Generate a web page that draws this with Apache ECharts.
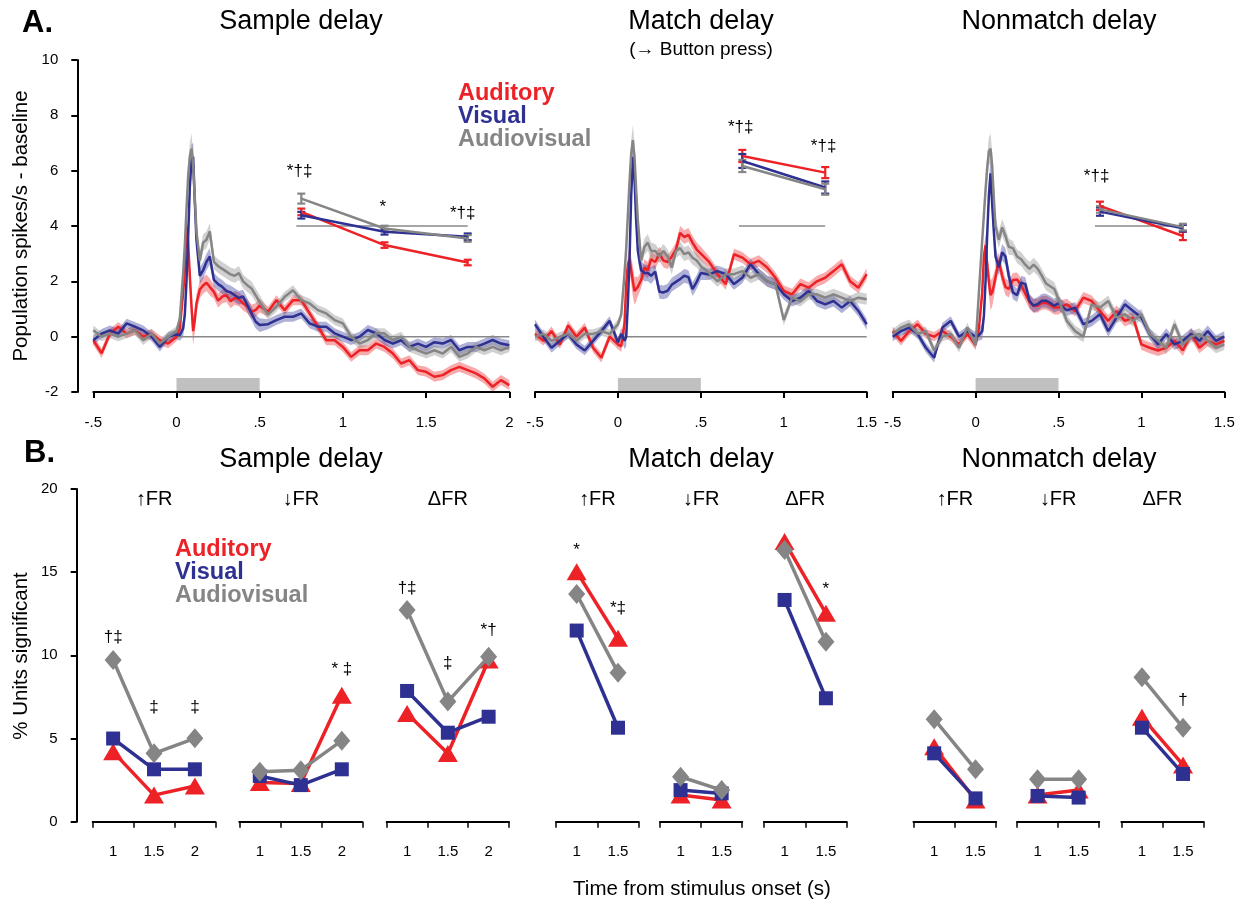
<!DOCTYPE html>
<html>
<head>
<meta charset="utf-8">
<title>Population activity and % units significant</title>
<script src="https://cdn.jsdelivr.net/npm/echarts@6.0.0/dist/echarts.min.js"></script>
<style>
  html, body { margin: 0; padding: 0; background: #fff; }
  #main { width: 1244px; height: 903px; }
</style>
</head>
<body>
<div id="main"></div>
<script>
// ---- A. population PSTH (spikes/s - baseline) ----
var a1Times = [-0.5,-0.45,-0.4,-0.35,-0.3,-0.25,-0.2,-0.15,-0.1,-0.05,
  0,0.02,0.04,0.05,0.06,0.07,0.08,0.09,0.1,0.11,0.12,0.14,0.16,0.18,0.2,0.225,0.25,0.275,0.3,0.325,0.35,0.375,0.4,0.425,0.45,0.475,0.5,
  0.55,0.6,0.65,0.7,0.75,0.8,0.85,0.9,0.95,1,1.05,1.1,1.15,1.2,1.25,1.3,1.35,1.4,1.45,1.5,1.55,1.6,1.65,1.7,1.75,1.8,1.85,1.9,1.95,2];
var a23Times = [-0.5,-0.45,-0.4,-0.35,-0.3,-0.25,-0.2,-0.15,-0.1,-0.05,
  0,0.02,0.04,0.05,0.06,0.07,0.08,0.09,0.1,0.11,0.12,0.14,0.16,0.18,0.2,0.225,0.25,0.275,0.3,0.325,0.35,0.375,0.4,0.425,0.45,0.475,0.5,
  0.55,0.6,0.65,0.7,0.75,0.8,0.85,0.9,0.95,1,1.05,1.1,1.15,1.2,1.25,1.3,1.35,1.4,1.45,1.5];

// sample delay
var a1Red = [-0.13,-0.6,0.11,0.36,0.11,0.23,0,0.11,-0.13,-0.25,
  0,0.3,1.6,2.4,4.0,3.4,2.2,1.1,0.2,0.6,1.2,1.7,1.85,1.95,1.8,1.62,1.3,1.45,1.5,1.28,1.4,1.35,1.2,1.1,0.9,0.96,1.12,
  0.9,1.32,0.96,1.32,1.32,0.84,0.36,-0.13,-0.13,-0.37,-0.73,-0.49,-0.49,-0.25,-0.37,-0.61,-0.97,-0.85,-1.21,-1.27,-1.45,-1.39,-1.21,-1.09,-1.21,-1.33,-1.51,-1.81,-1.57,-1.75];
var a1Blue = [-0.13,0.11,0.23,0.11,0.48,0.36,0.23,0,-0.37,0,
  0.08,0.05,0.3,0.8,2.0,3.6,5.4,6.4,6.5,4.9,3.5,2.2,2.4,2.7,2.9,2.05,1.9,1.8,1.65,1.6,1.5,1.4,1.45,1.15,0.85,0.55,0.42,
  0.45,0.6,0.72,0.72,0.84,0.48,0.36,0.36,0.12,0,-0.12,0,0.24,0.12,-0.12,-0.25,-0.13,-0.37,-0.25,-0.37,-0.2,-0.25,-0.12,-0.49,-0.37,-0.37,-0.25,-0.12,-0.25,-0.31];
var a1Gray = [0.23,0,0.11,0,0.11,0.23,-0.13,0.11,-0.25,0,
  0.2,0.65,2.3,3.3,4.6,5.8,6.5,6.8,6.2,5.0,3.8,2.75,3.4,3.5,3.8,2.7,2.55,2.45,2.35,2.25,2.2,2.3,2.0,1.86,1.75,1.5,1.25,
  0.8,1.08,1.44,1.68,1.32,1.2,0.96,0.84,0.6,0.48,0,-0.25,-0.12,0.12,0.12,-0.13,0,-0.37,-0.49,-0.61,-0.49,-0.61,-0.37,-0.73,-0.61,-0.37,-0.49,-0.37,-0.49,-0.37];
var a1Sem = [0.17,0.17,0.17,0.17,0.17,0.17,0.17,0.17,0.17,0.17,
  0.17,0.2,0.3,0.35,0.4,0.45,0.5,0.55,0.5,0.45,0.35,0.3,0.3,0.3,0.3,0.25,0.25,0.25,0.25,0.25,0.25,0.25,0.25,0.25,0.25,0.25,0.25,
  0.18,0.18,0.18,0.18,0.18,0.18,0.18,0.18,0.18,0.18,0.18,0.18,0.18,0.18,0.18,0.18,0.18,0.18,0.18,0.18,0.18,0.18,0.18,0.18,0.18,0.18,0.18,0.18,0.18,0.18];

// match delay
var a2Red = [0.1,-0.15,0.2,-0.28,0.4,0,0.33,-0.4,-0.76,0,
  -0.28,-0.35,0.5,1.9,2.6,2.8,2.4,2.0,1.65,1.72,1.8,2.05,2.5,2.4,2.8,2.7,3.0,2.75,2.7,2.9,3.15,3.75,3.6,3.68,3.4,3.15,3.0,
  2.7,2.26,1.9,2.98,2.86,2.62,2.74,2.5,2.13,1.65,1.53,1.9,1.77,2.0,2.13,2.37,2.62,2.0,1.77,2.26];
var a2Blue = [0.45,0,-0.4,-0.15,0.1,-0.28,-0.5,-0.15,0.2,0.57,
  -0.2,0.1,-0.15,0,1.2,2.8,5.1,6.5,5.7,4.2,3.1,2.4,2.3,2.3,2.2,2.35,1.62,1.6,1.66,1.88,1.98,2.08,2.2,2.15,1.72,1.98,2.3,
  2.25,2.37,2.26,1.9,2.13,2.62,2.26,2.0,1.9,1.53,1.29,1.41,1.65,1.29,1.17,1.29,1.05,1.29,0.93,0.45];
var a2Gray = [0,0.1,-0.15,0,0.1,-0.15,0.1,0.1,0.2,0.1,
  0.45,0.8,2.3,3.2,4.4,5.6,6.6,7.1,6.5,5.3,4.2,2.75,3.25,3.4,3.1,3.1,2.9,3.1,2.9,2.5,3.1,3.2,2.98,3.05,2.85,2.75,2.55,
  2.3,2.0,2.26,2.26,2.37,2.13,2.26,2.0,1.9,0.6,1.41,1.29,1.53,1.53,1.41,1.53,1.41,1.29,1.41,1.35];

// nonmatch delay
var a3Red = [0.2,-0.15,0.2,0.45,0.1,0,0.2,0,-0.28,0.1,
  -0.3,0.3,1.6,2.9,3.3,2.6,2.0,1.5,1.6,1.85,2.15,2.75,2.2,1.8,1.72,2.05,2.07,1.85,1.55,1.25,1.11,1.12,1.22,1.23,1.15,1.05,1.05,
  1.17,0.93,1.41,1.29,0.93,0.57,0.93,0.57,0.69,-0.28,-0.4,-0.5,-0.4,-0.15,-0.5,0.1,-0.4,-0.15,-0.28,-0.15];
var a3Blue = [0,0.2,0.33,0.1,-0.4,-0.76,0.33,0.57,0,0.2,
  0,0.05,0.2,0.75,2.0,3.7,5.1,5.9,4.8,3.8,2.9,2.5,3.05,2.9,2.2,1.6,1.5,1.95,1.9,1.3,1.12,1.18,1.3,1.3,1.22,1.12,1.2,
  0.95,1.05,0.45,0.57,0.81,0.2,0.69,1.17,0.93,0.69,0.1,-0.28,0.1,-0.28,-0.15,0.1,-0.15,0.2,-0.15,0];
var a3Gray = [0.1,0.33,0.45,0.1,0.2,-0.5,0,0.1,-0.4,0.33,
  -0.3,1.6,3.5,4.4,5.3,6.1,6.7,6.8,6.17,5.0,4.0,3.5,3.95,3.64,3.25,3.2,2.9,2.8,2.6,2.45,2.6,2.45,2.2,1.92,1.82,1.72,1.35,
  0.57,0.2,0,1.17,1.05,1.29,0.69,0.81,0.57,0.81,0.1,-0.15,-0.4,0.45,-0.28,0,0.1,-0.15,-0.4,-0.28];
var a23Sem = [0.17,0.17,0.17,0.17,0.17,0.17,0.17,0.17,0.17,0.17,
  0.17,0.2,0.3,0.35,0.4,0.45,0.5,0.55,0.5,0.45,0.35,0.3,0.3,0.3,0.3,0.25,0.25,0.25,0.25,0.25,0.25,0.25,0.25,0.25,0.25,0.25,0.25,
  0.2,0.2,0.2,0.2,0.2,0.2,0.2,0.2,0.2,0.2,0.2,0.2,0.2,0.2,0.2,0.2,0.2,0.2,0.2,0.2];

// delay-period means (inset), with s.e.m.
var a1InsetT = [0.75, 1.25, 1.75];
var a1InsetRed = [4.51, 3.31, 2.68], a1InsetRedErr = [0.12, 0.1, 0.1];
var a1InsetBlue = [4.39, 3.79, 3.61], a1InsetBlueErr = [0.12, 0.1, 0.12];
var a1InsetGray = [4.99, 3.91, 3.55], a1InsetGrayErr = [0.18, 0.1, 0.12];
var a2InsetT = [0.75, 1.25];
var a2InsetRed = [6.53, 5.93], a2InsetRedErr = [0.22, 0.2];
var a2InsetBlue = [6.35, 5.39], a2InsetBlueErr = [0.25, 0.22];
var a2InsetGray = [6.17, 5.33], a2InsetGrayErr = [0.22, 0.2];
var a3InsetT = [0.75, 1.25];
var a3InsetRed = [4.73, 3.64], a3InsetRedErr = [0.15, 0.15];
var a3InsetBlue = [4.52, 3.92], a3InsetBlueErr = [0.15, 0.12];
var a3InsetGray = [4.6, 3.96], a3InsetGrayErr = [0.12, 0.12];
var insetRefLevel = 4;
var a1Notes = [[0.74, 5.96, '*†‡'], [1.24, 4.69, '*'], [1.72, 4.45, '*†‡']];
var a2Notes = [[0.74, 7.58, '*†‡'], [1.24, 6.89, '*†‡']];
var a3Notes = [[0.73, 5.78, '*†‡']];
var stimOn = 0, stimOff = 0.5;

// ---- B. % units significant ----
var bCats3 = ['1', '1.5', '2'];
var bCats2 = ['1', '1.5'];
var sUpRed = [4.2, 1.6, 2.15], sUpBlue = [5.0, 3.15, 3.15], sUpGray = [9.72, 4.11, 5.01];
var sDnRed = [2.35, 2.3, 7.6], sDnBlue = [2.75, 2.2, 3.15], sDnGray = [3.0, 3.1, 4.87];
var sDfRed = [6.5, 4.1, 9.72], sDfBlue = [7.86, 5.35, 6.31], sDfGray = [12.73, 7.22, 9.92];
var mUpRed = [15.03, 11.03], mUpBlue = [11.49, 5.65], mUpGray = [13.69, 8.96];
var mDnRed = [1.6, 1.3], mDnBlue = [1.9, 1.7], mDnGray = [2.7, 1.9];
var mDfRed = [16.84, 12.53], mDfBlue = [13.33, 7.42], mDfGray = [16.34, 10.82];
var nUpRed = [4.5, 1.3], nUpBlue = [4.11, 1.4], nUpGray = [6.16, 3.15];
var nDnRed = [1.6, 1.9], nDnBlue = [1.55, 1.45], nDnGray = [2.55, 2.55];
var nDfRed = [6.28, 3.41], nDfBlue = [5.65, 2.87], nDfGray = [8.68, 5.65];
var sUpNotes = [[0, 11.1, '†‡'], [1, 6.9, '‡'], [2, 6.9, '‡']];
var sDnNotes = [[2, 9.15, '* ‡']];
var sDfNotes = [[0, 14.0, '†‡'], [1, 9.5, '‡'], [2, 11.5, '*†']];
var mUpNotes = [[0, 16.3, '*'], [1, 12.85, '*‡']];
var mDnNotes = [];
var mDfNotes = [[1, 13.95, '*']];
var nUpNotes = [], nDnNotes = [];
var nDfNotes = [[1, 7.3, '†']];

var RED = '#ec2227', BLUE = '#2e3192', GRAY = '#858585';
var FONT = '"Liberation Sans", Arial, Helvetica, sans-serif';

var chart = echarts.init(document.getElementById('main'));

var grids = [], xAxes = [], yAxes = [], series = [];

function tickFmt(v) {
    if (Math.abs(v) < 1e-9) return '0';
    var s = String(Math.round(v * 10) / 10);
    return s.replace(/^(-?)0\./, '$1.');
}

function axisCommon() {
    return {
        axisLine: { show: true, onZero: false, lineStyle: { color: '#000', width: 2 } },
        axisTick: { show: true, length: 6, lineStyle: { color: '#000', width: 2 } },
        splitLine: { show: false }
    };
}

function addAGrid(left, width, xmax, showY) {
    var gi = grids.length;
    grids.push({ left: left, top: 60, width: width, height: 332 });
    xAxes.push(echarts.util.merge({
        gridIndex: gi, type: 'value', min: -0.5, max: xmax, interval: 0.5,
        axisLabel: { color: '#000', fontSize: 15, margin: 23, formatter: tickFmt, fontFamily: FONT }
    }, axisCommon(), true));
    yAxes.push(echarts.util.merge({
        gridIndex: gi, type: 'value', min: -2, max: 10, interval: 2, show: showY, offset: 16,
        axisLabel: { color: '#000', fontSize: 15, margin: 19, fontFamily: FONT }
    }, axisCommon(), true));
    return gi;
}

function addBGrid(left, width, cats, showY) {
    var gi = grids.length;
    grids.push({ left: left, top: 489, width: width, height: 332.7 });
    var xa = echarts.util.merge({
        gridIndex: gi, type: 'category', data: cats, boundaryGap: true,
        axisLabel: { color: '#000', fontSize: 15, margin: 23, fontFamily: FONT }
    }, axisCommon(), true);
    xa.axisTick.lineStyle.width = 1.5;
    xAxes.push(xa);
    yAxes.push(echarts.util.merge({
        gridIndex: gi, type: 'value', min: 0, max: 20, interval: 5, show: showY, offset: 16,
        axisLabel: { color: '#000', fontSize: 15, margin: 19, fontFamily: FONT }
    }, axisCommon(), true));
    return gi;
}

//误差带
function bandSeries(gi, T, V, S, color) {
    return {
        type: 'custom', xAxisIndex: gi, yAxisIndex: gi, silent: true, z: 1,
        data: [[T[0], V[0]]],
        renderItem: function (params, api) {
            var up = [], lo = [];
            for (var i = 0; i < T.length; i++) {
                up.push(api.coord([T[i], V[i] + S[i]]));
                lo.unshift(api.coord([T[i], V[i] - S[i]]));
            }
            return { type: 'polygon', shape: { points: up.concat(lo) }, style: { fill: color, opacity: 0.38 } };
        }
    };
}

function traceSeries(gi, T, V, color, z) {
    return {
        type: 'line', xAxisIndex: gi, yAxisIndex: gi, silent: true, z: z,
        data: T.map(function (t, i) { return [t, V[i]]; }),
        symbol: 'none', lineStyle: { color: color, width: 2.5 }, itemStyle: { color: color }
    };
}

function refLine(gi, x0, x1, y) {
    return {
        type: 'line', xAxisIndex: gi, yAxisIndex: gi, silent: true, z: 1,
        data: [[x0, y], [x1, y]], symbol: 'none',
        lineStyle: { color: '#888', width: 1.5 }
    };
}

function stimBar(gi) {
    return {
        type: 'custom', xAxisIndex: gi, yAxisIndex: gi, silent: true, z: 1,
        data: [[stimOn, -2]],
        renderItem: function (params, api) {
            var p0 = api.coord([stimOn, -2]), p1 = api.coord([stimOff, -2]);
            return { type: 'rect', shape: { x: p0[0], y: p0[1] - 14, width: p1[0] - p0[0], height: 13 }, style: { fill: '#c0c0c0' } };
        }
    };
}

function insetSeries(gi, T, V, E, color, z) {
    var out = [];
    out.push({
        type: 'line', xAxisIndex: gi, yAxisIndex: gi, silent: true, z: z,
        data: T.map(function (t, i) { return [t, V[i]]; }), symbol: 'none',
        lineStyle: { color: color, width: 2.5 }
    });
    out.push({
        type: 'custom', xAxisIndex: gi, yAxisIndex: gi, silent: true, z: z,
        data: T.map(function (t, i) { return [t, V[i], E[i]]; }),
        renderItem: function (params, api) {
            var x = api.value(0), y = api.value(1), e = api.value(2);
            var a = api.coord([x, y + e]), b = api.coord([x, y - e]);
            var st = { stroke: color, lineWidth: 2.2 };
            return {
                type: 'group', children: [
                    { type: 'line', shape: { x1: a[0], y1: a[1], x2: b[0], y2: b[1] }, style: st },
                    { type: 'line', shape: { x1: a[0] - 4, y1: a[1], x2: a[0] + 4, y2: a[1] }, style: st },
                    { type: 'line', shape: { x1: b[0] - 4, y1: b[1], x2: b[0] + 4, y2: b[1] }, style: st }
                ]
            };
        }
    });
    return out;
}

function noteSeries(gi, notes) {
    return {
        type: 'custom', xAxisIndex: gi, yAxisIndex: gi, silent: true, z: 6,
        data: notes.map(function (n) { return [n[0], n[1]]; }),
        renderItem: function (params, api) {
            var p = api.coord([api.value(0), api.value(1)]);
            return {
                type: 'text', x: p[0], y: p[1],
                style: { text: notes[params.dataIndex][2], font: '17px ' + FONT, fill: '#000', align: 'center', verticalAlign: 'middle' }
            };
        }
    };
}

function aPanel(left, width, xmax, showY, T, R, Bl, G, S, iT, iR, iRe, iB, iBe, iG, iGe, refX0, refX1, notes) {
    var gi = addAGrid(left, width, xmax, showY);
    series.push(stimBar(gi));
    series.push(refLine(gi, 0, xmax, 0));
    series.push(bandSeries(gi, T, R, S, RED));
    series.push(bandSeries(gi, T, Bl, S, BLUE));
    series.push(bandSeries(gi, T, G, S, GRAY));
    series.push(traceSeries(gi, T, R, RED, 2));
    series.push(traceSeries(gi, T, Bl, BLUE, 3));
    series.push(traceSeries(gi, T, G, GRAY, 3));
    series.push(refLine(gi, refX0, refX1, insetRefLevel));
    series = series.concat(insetSeries(gi, iT, iR, iRe, RED, 4));
    series = series.concat(insetSeries(gi, iT, iB, iBe, BLUE, 4));
    series = series.concat(insetSeries(gi, iT, iG, iGe, GRAY, 4));
    series.push(noteSeries(gi, notes));
}

function bLine(gi, V, color, symbol, size, z) {
    return {
        type: 'line', xAxisIndex: gi, yAxisIndex: gi, silent: true, z: z,
        data: V, symbol: symbol, symbolSize: size, showSymbol: true,
        lineStyle: { color: color, width: 3.5 },
        itemStyle: { color: color, borderWidth: 0 }
    };
}

function bPanel(left, width, cats, showY, R, Bl, G, notes) {
    var gi = addBGrid(left, width, cats, showY);
    series.push(bLine(gi, R, RED, 'triangle', [20, 17], 2));
    series.push(bLine(gi, Bl, BLUE, 'rect', 14, 3));
    series.push(bLine(gi, G, GRAY, 'diamond', [17, 20], 4));
    if (notes.length) series.push(noteSeries(gi, notes));
    return grids[gi];
}

aPanel(93.3, 416, 2, true, a1Times, a1Red, a1Blue, a1Gray, a1Sem,
    a1InsetT, a1InsetRed, a1InsetRedErr, a1InsetBlue, a1InsetBlueErr, a1InsetGray, a1InsetGrayErr, 0.72, 1.75, a1Notes);
aPanel(535, 331.7, 1.5, false, a23Times, a2Red, a2Blue, a2Gray, a23Sem,
    a2InsetT, a2InsetRed, a2InsetRedErr, a2InsetBlue, a2InsetBlueErr, a2InsetGray, a2InsetGrayErr, 0.73, 1.25, a2Notes);
aPanel(892.7, 331.6, 1.5, false, a23Times, a3Red, a3Blue, a3Gray, a23Sem,
    a3InsetT, a3InsetRed, a3InsetRedErr, a3InsetBlue, a3InsetBlueErr, a3InsetGray, a3InsetGrayErr, 0.72, 1.24, a3Notes);

var bGrids = [
    bPanel(92.7, 122.6, bCats3, true, sUpRed, sUpBlue, sUpGray, sUpNotes),
    bPanel(239.3, 123, bCats3, false, sDnRed, sDnBlue, sDnGray, sDnNotes),
    bPanel(386.7, 122.3, bCats3, false, sDfRed, sDfBlue, sDfGray, sDfNotes),
    bPanel(556, 82.7, bCats2, false, mUpRed, mUpBlue, mUpGray, mUpNotes),
    bPanel(660, 82.2, bCats2, false, mDnRed, mDnBlue, mDnGray, mDnNotes),
    bPanel(763.9, 82.7, bCats2, false, mDfRed, mDfBlue, mDfGray, mDfNotes),
    bPanel(913.5, 82.7, bCats2, false, nUpRed, nUpBlue, nUpGray, nUpNotes),
    bPanel(1017, 82.2, bCats2, false, nDnRed, nDnBlue, nDnGray, nDnNotes),
    bPanel(1121.4, 82.2, bCats2, false, nDfRed, nDfBlue, nDfGray, nDfNotes)
];

// texts
function txt(x, y, s, size, o) {
    o = o || {};
    return {
        type: 'text', x: x, y: y, rotation: o.rot || 0, z: 100, silent: true,
        style: {
            text: s, font: (o.bold ? 'bold ' : '') + size + 'px ' + FONT,
            fill: o.color || '#000', align: o.align || 'center', verticalAlign: 'middle'
        }
    };
}

var subTitles = ['↑FR', '↓FR', 'ΔFR', '↑FR', '↓FR', 'ΔFR', '↑FR', '↓FR', 'ΔFR'];
var graphics = [
    txt(22, 23, 'A.', 31, { bold: true, align: 'left' }),
    txt(24, 453, 'B.', 31, { bold: true, align: 'left' }),
    txt(301, 22, 'Sample delay', 27), txt(701, 22, 'Match delay', 27), txt(1059, 22, 'Nonmatch delay', 27),
    txt(701, 50, '(→ Button press)', 19),
    txt(301, 460, 'Sample delay', 27), txt(701, 460, 'Match delay', 27), txt(1059, 460, 'Nonmatch delay', 27),
    txt(458, 94, 'Auditory', 23.5, { bold: true, align: 'left', color: RED }),
    txt(458, 117, 'Visual', 23.5, { bold: true, align: 'left', color: BLUE }),
    txt(458, 140, 'Audiovisual', 23.5, { bold: true, align: 'left', color: GRAY }),
    txt(175, 550, 'Auditory', 23.5, { bold: true, align: 'left', color: RED }),
    txt(175, 573, 'Visual', 23.5, { bold: true, align: 'left', color: BLUE }),
    txt(175, 596, 'Audiovisual', 23.5, { bold: true, align: 'left', color: GRAY }),
    txt(21, 226, 'Population spikes/s - baseline', 20.5, { rot: Math.PI / 2 }),
    txt(21, 656, '% Units significant', 20.5, { rot: Math.PI / 2 }),
    txt(702, 889, 'Time from stimulus onset (s)', 20.5)
];
bGrids.forEach(function (g, i) {
    graphics.push(txt(g.left + g.width / 2, 499, subTitles[i], 20));
});

chart.setOption({
    animation: false,
    backgroundColor: '#fff',
    textStyle: { fontFamily: FONT },
    grid: grids,
    xAxis: xAxes,
    yAxis: yAxes,
    series: series,
    graphic: graphics
});
</script>
</body>
</html>
